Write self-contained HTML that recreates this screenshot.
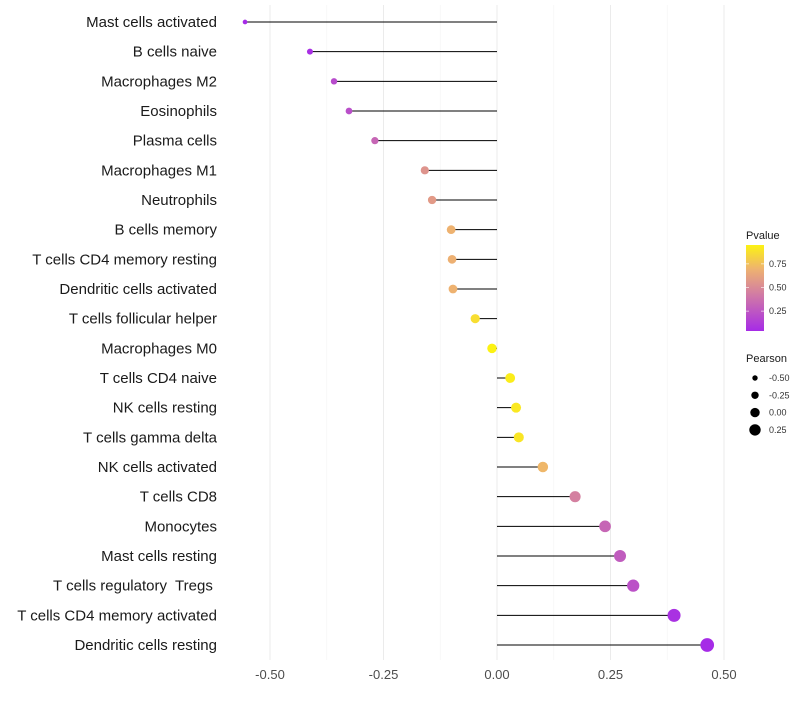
<!DOCTYPE html>
<html><head><meta charset="utf-8"><style>
body{margin:0;background:#fff;}
svg text{font-family:"Liberation Sans",sans-serif;white-space:pre;}
</style></head><body>
<svg id="c" width="800" height="700" xmlns="http://www.w3.org/2000/svg"></svg>
<script>
const categories=["Mast cells activated","B cells naive","Macrophages M2","Eosinophils","Plasma cells","Macrophages M1","Neutrophils","B cells memory","T cells CD4 memory resting","Dendritic cells activated","T cells follicular helper","Macrophages M0","T cells CD4 naive","NK cells resting","T cells gamma delta","NK cells activated","T cells CD8","Monocytes","Mast cells resting","T cells regulatory  Tregs ","T cells CD4 memory activated","Dendritic cells resting"];
const pearson=[-0.555,-0.412,-0.359,-0.326,-0.269,-0.159,-0.143,-0.101,-0.099,-0.097,-0.048,-0.011,0.029,0.042,0.048,0.101,0.172,0.238,0.271,0.300,0.390,0.463];
const pvalue=[0.05,0.07,0.2,0.22,0.33,0.55,0.58,0.7,0.69,0.7,0.87,0.95,0.93,0.91,0.9,0.72,0.45,0.33,0.28,0.23,0.08,0.05];
const xTicks=[-0.5,-0.25,0,0.25,0.5];
const xTickLabels=["-0.50","-0.25","0.00","0.25","0.50"];
const legendSizes=[-0.5,-0.25,0,0.25];
const legendSizeLabels=["-0.50","-0.25","0.00","0.25"];
const NS="http://www.w3.org/2000/svg";
const svg=document.getElementById('c');
const x=v=>497+v*454;
const y=i=>22+i*(623/21);
const r=v=>Math.max(1.5,4.8+4.4*v);
function col(p){
  const stops=[[0,[160,32,240]],[0.45,[212,128,160]],[0.7,[238,178,112]],[1,[255,255,0]]];
  for(let k=1;k<stops.length;k++){if(p<=stops[k][0]){const a=stops[k-1],b=stops[k],t=(p-a[0])/(b[0]-a[0]);
    return 'rgb('+a[1].map((c,j)=>Math.round(c+(b[1][j]-c)*t)).join(',')+')';}}
  return 'rgb(255,255,0)';
}
function el(t,a,txt){const e=document.createElementNS(NS,t);for(const k in a)e.setAttribute(k,a[k]);if(txt!=null)e.textContent=txt;svg.appendChild(e);return e;}
[-0.375,-0.125,0.125,0.375].forEach(v=>{const g=el('line',{x1:x(v),x2:x(v),y1:5,y2:660,stroke:'#f4f4f4','stroke-width':0.6});
});
xTicks.forEach((v,i)=>{const g=el('line',{x1:x(v),x2:x(v),y1:5,y2:660,stroke:'#ebebeb','stroke-width':1});

const t=el('text',{x:x(v),y:679,'font-size':13,'text-anchor':'middle',fill:'#4d4d4d'},xTickLabels[i]);
});
categories.forEach((c,i)=>{
  const t=el('text',{x:217,y:y(i)+5,'font-size':15,'text-anchor':'end',fill:'#1a1a1a'},c);
  
  const l=el('line',{x1:x(0),x2:x(pearson[i]),y1:y(i),y2:y(i),stroke:'#000','stroke-width':1});
  
  const p=el('circle',{cx:x(pearson[i]),cy:y(i),r:r(pearson[i]),fill:col(pvalue[i])});
  
});
const defs=el('defs',{});
const lg=document.createElementNS(NS,'linearGradient');lg.setAttribute('id','g');lg.setAttribute('x1',0);lg.setAttribute('y1',1);lg.setAttribute('x2',0);lg.setAttribute('y2',0);
[[0,0.05],[0.45,0.45],[0.72,0.7],[1,0.95]].forEach(([o,p])=>{const s=document.createElementNS(NS,'stop');s.setAttribute('offset',o);s.setAttribute('stop-color',col(p));lg.appendChild(s);});
defs.appendChild(lg);
const lt=el('text',{x:746,y:239,'font-size':11,fill:'#1a1a1a'},'Pvalue');

const cb=el('rect',{x:746,y:245,width:18,height:86,fill:'url(#g)'});

[[0.75,'0.75'],[0.5,'0.50'],[0.25,'0.25']].forEach(([v,s])=>{const yy=330-(v-0.05)/0.9*85;
const t=el('text',{x:769,y:yy+3,'font-size':9,fill:'#333'},s);
el('line',{x1:746,x2:749,y1:yy,y2:yy,stroke:'#fff','stroke-width':0.6});el('line',{x1:761,x2:764,y1:yy,y2:yy,stroke:'#fff','stroke-width':0.6});});
const st=el('text',{x:746,y:362,'font-size':11,fill:'#1a1a1a'},'Pearson');

legendSizes.forEach((v,i)=>{const yy=378+i*17.3;
const c=el('circle',{cx:755,cy:yy,r:2.7+1*(v+0.5)*4,fill:'#000'});
const t=el('text',{x:769,y:yy+3,'font-size':9,fill:'#333'},legendSizeLabels[i]);});
</script>
</body></html>
